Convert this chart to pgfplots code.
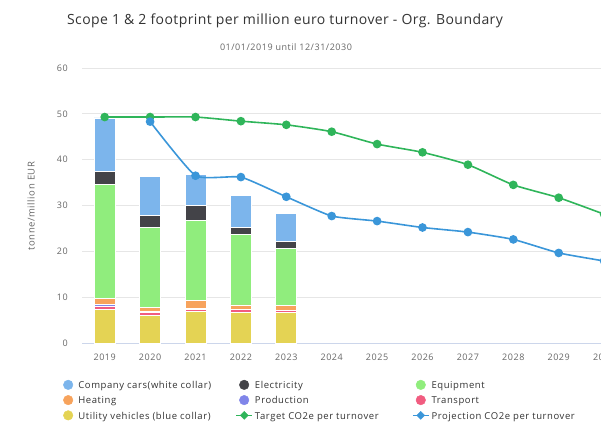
\documentclass[border=0pt]{standalone}
\usepackage{pgfplots}
\usepackage{pgfplotstable}
\pgfplotsset{compat=1.18}
\usepackage{fontspec}
\setmainfont{Open Sans}
\newfontfamily\spaced[LetterSpace=6]{Open Sans}
\newfontfamily\titlef[LetterSpace=3]{Open Sans}
\definecolor{cars}{HTML}{7CB5EC}
\definecolor{elec}{HTML}{434348}
\definecolor{equip}{HTML}{90ED7D}
\definecolor{heat}{HTML}{F7A35C}
\definecolor{prod}{HTML}{8085E9}
\definecolor{trans}{HTML}{F15C80}
\definecolor{util}{HTML}{E4D354}
\definecolor{target}{HTML}{2FB55A}
\definecolor{proj}{HTML}{3A96D9}
\definecolor{gridc}{HTML}{E6E6E6}
\definecolor{axisline}{HTML}{CCD6EB}
\definecolor{txt}{HTML}{333333}
\definecolor{sub}{HTML}{666666}

\pgfplotstableread{
year util trans prod heat equip elec cars
2019 7.4 0.6 0.5 1.3 24.8 2.8 11.7
2020 6.1 0.6 0.1 1.0 17.5 2.5 8.5
2021 6.9 0.5 0.1 1.8 17.5 3.3 6.7
2022 6.7 0.6 0.1 0.9 15.4 1.6 6.9
2023 6.7 0.4 0.1 0.9 12.6 1.5 6.0
}\bars

\pgfplotstableread{
year v
2019 49.3
2020 49.3
2021 49.3
2022 48.4
2023 47.6
2024 46.1
2025 43.4
2026 41.6
2027 38.9
2028 34.5
2029 31.7
2030 28.1
}\target

\pgfplotstableread{
year v
2020 48.3
2021 36.5
2022 36.2
2023 31.9
2024 27.7
2025 26.6
2026 25.2
2027 24.2
2028 22.6
2029 19.65
2030 17.9
}\proj

\pgfplotsset{
  base/.style={at={(82pt,78pt)}, anchor=south west, scale only axis,
    width=544.8pt, height=275pt, xmin=2018.5, xmax=2030.5, ymin=0, ymax=60},
  barsty/.style={fill=#1, draw=white, line width=0.8pt},
}

\begin{document}
\begin{tikzpicture}
\begin{axis}[base,
  ybar stacked, bar width=21pt,
  axis x line=bottom, axis y line=left, axis line style={-},
  x axis line style={draw=axisline, line width=1pt},
  y axis line style={draw=none},
  tick style={draw=none},
  ytick={0,10,...,60}, xtick={2019,2020,...,2030},
  ymajorgrids, grid style={draw=gridc, line width=0.8pt},
  /pgf/number format/assume math mode=true, /pgf/number format/1000 sep={},
  yticklabel style={font=\spaced\fontsize{9}{10}\selectfont, text=sub, anchor=east, inner sep=0pt, xshift=-12pt},
  xticklabel style={font=\spaced\fontsize{9}{10}\selectfont, text=sub, anchor=center, inner sep=0pt, yshift=-12pt},
  ylabel={tonne/million EUR},
  every axis y label/.style={at={(axis description cs:-0.0935,0.498)}, rotate=90, anchor=center, font=\spaced\fontsize{9.5}{11}\selectfont, text=sub},
]
\addplot[barsty=util] table[x=year,y=util] {\bars};
\addplot[barsty=trans] table[x=year,y=trans] {\bars};
\addplot[barsty=prod] table[x=year,y=prod] {\bars};
\addplot[barsty=heat] table[x=year,y=heat] {\bars};
\addplot[barsty=equip] table[x=year,y=equip] {\bars};
\addplot[barsty=elec] table[x=year,y=elec] {\bars};
\addplot[barsty=cars] table[x=year,y=cars] {\bars};
\end{axis}
\begin{axis}[base, axis lines=none, xtick=\empty, ytick=\empty,
  legend columns=3,
  legend style={at={(axis description cs:-0.0404,-0.134)}, anchor=north west,
    draw=none, fill=none, inner sep=0pt, outer sep=0pt,
    font=\spaced\fontsize{9.5}{11}\selectfont, text=txt,
    row sep=0pt, column sep=0pt,
    nodes={inner sep=0pt, text height=8pt, text depth=6.5pt},
    /tikz/every odd column/.append style={column sep=2pt}},
]
\addplot[target, line width=1.6pt, smooth, tension=0.35, mark=*, mark size=3.5pt, mark options={fill=target, draw=target}, forget plot] table[x=year,y=v] {\target};
\addplot[proj, line width=1.6pt, smooth, tension=0.28, mark=*, mark size=3.5pt, mark options={fill=proj, draw=proj}, forget plot] table[x=year,y=v] {\proj};
\addlegendimage{legend image code/.code={\path (0pt,0pt) (16pt,0pt); \fill[cars] (8pt,3pt) circle (4.8pt);}}
\addlegendentry{\makebox[157pt][l]{Company cars(white collar)}}
\addlegendimage{legend image code/.code={\path (0pt,0pt) (16pt,0pt); \fill[elec] (8pt,3pt) circle (4.8pt);}}
\addlegendentry{\makebox[157pt][l]{Electricity}}
\addlegendimage{legend image code/.code={\path (0pt,0pt) (16pt,0pt); \fill[equip] (8pt,3pt) circle (4.8pt);}}
\addlegendentry{\makebox[157pt][l]{Equipment}}
\addlegendimage{legend image code/.code={\path (0pt,0pt) (16pt,0pt); \fill[heat] (8pt,3pt) circle (4.8pt);}}
\addlegendentry{\makebox[157pt][l]{Heating}}
\addlegendimage{legend image code/.code={\path (0pt,0pt) (16pt,0pt); \fill[prod] (8pt,3pt) circle (4.8pt);}}
\addlegendentry{\makebox[157pt][l]{Production}}
\addlegendimage{legend image code/.code={\path (0pt,0pt) (16pt,0pt); \fill[trans] (8pt,3pt) circle (4.8pt);}}
\addlegendentry{\makebox[157pt][l]{Transport}}
\addlegendimage{legend image code/.code={\path (0pt,0pt) (16pt,0pt); \fill[util] (8pt,3pt) circle (4.8pt);}}
\addlegendentry{\makebox[157pt][l]{Utility vehicles (blue collar)}}
\addlegendimage{legend image code/.code={\draw[target, line width=1.6pt] (0pt,3pt)--(16pt,3pt); \fill[target] (8pt,3pt) +(0,4pt) -- +(4pt,0) -- +(0,-4pt) -- +(-4pt,0) -- cycle;}}
\addlegendentry{\makebox[157pt][l]{Target CO2e per turnover}}
\addlegendimage{legend image code/.code={\draw[proj, line width=1.6pt] (0pt,3pt)--(16pt,3pt); \fill[proj] (8pt,3pt) +(0,4pt) -- +(4pt,0) -- +(0,-4pt) -- +(-4pt,0) -- cycle;}}
\addlegendentry{\makebox[157pt][l]{Projection CO2e per turnover}}
\end{axis}
\node[font=\titlef\fontsize{14}{17}\selectfont, text=txt] at (285pt,400pt) {Scope 1 \& 2 footprint per million euro turnover - Org. Boundary};
\node[font=\spaced\fontsize{9}{11}\selectfont, text=sub] at (286pt,374pt) {01/01/2019 until 12/31/2030};
\pgfresetboundingbox
\path[use as bounding box] (0pt,0pt) rectangle (601pt,421pt);
\end{tikzpicture}
\end{document}
